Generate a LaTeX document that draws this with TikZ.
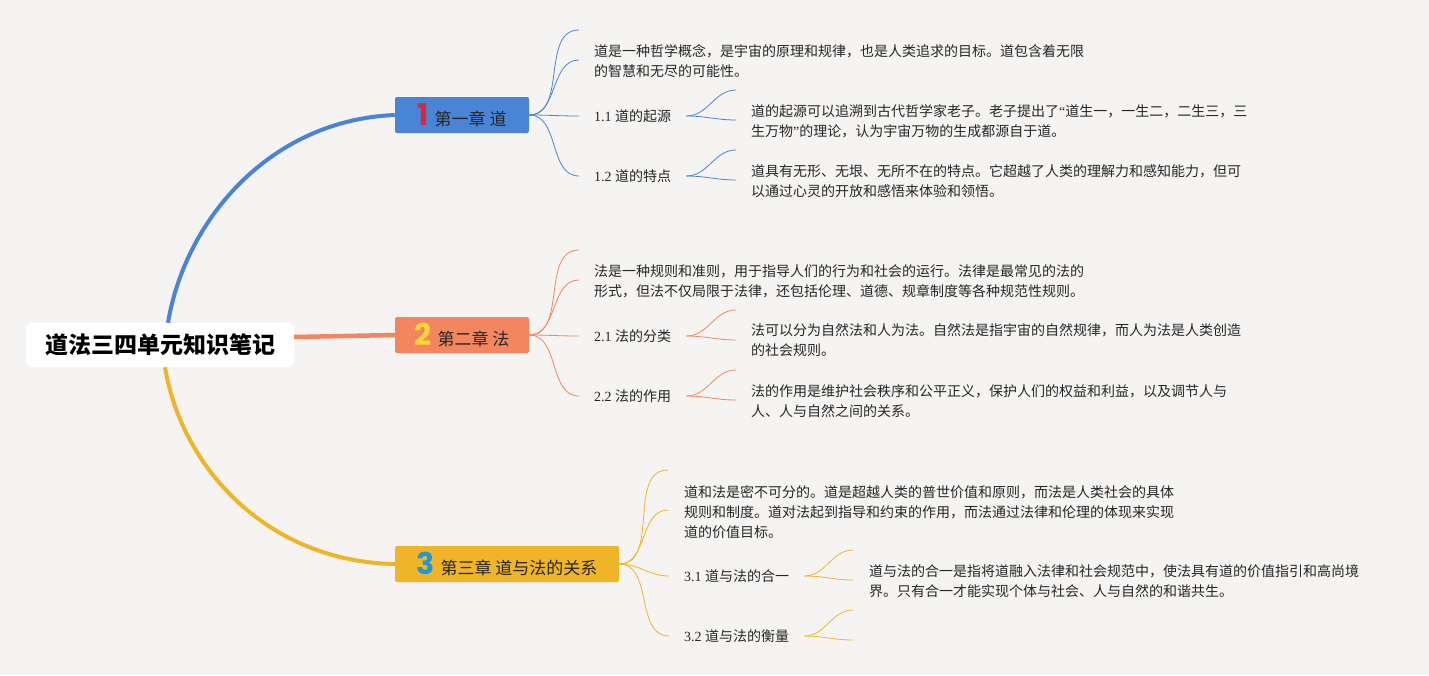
\documentclass[tikz,border=0pt]{standalone}
\usepackage{fontspec}
\setmainfont{Noto Sans CJK SC}
\newfontfamily\latinfont{Liberation Serif}
\newfontfamily\numfont{Poppins}
\usetikzlibrary{positioning}
\definecolor{paperGray}{HTML}{F5F4F2}
\definecolor{inkBlack}{HTML}{262626}
\definecolor{daoBlue}{HTML}{4A84D6}
\definecolor{faOrange}{HTML}{F2865F}
\definecolor{guanYellow}{HTML}{F0B429}
\definecolor{numRed}{HTML}{D62A3C}
\definecolor{numYellow}{HTML}{F8D838}
\definecolor{numBlue}{HTML}{2196D8}
\tikzset{
  topic/.style={rectangle, rounded corners=2pt, minimum height=36pt, inner sep=0pt,
    font=\fontsize{17}{19}\selectfont, text=inkBlack},
  twig/.style={line width=0.8pt},
  sublabel/.style={anchor=west, inner sep=0pt, font=\fontsize{14}{18}\selectfont, text=inkBlack},
  note/.style={anchor=west, inner sep=0pt, align=left, font=\fontsize{14}{19.8}\selectfont, text=inkBlack}
}

\begin{document}
\begin{tikzpicture}[x=1pt, y=-1pt]
  % fondo
  \fill[paperGray] (0,0) rectangle (1429,675);
  % tema central y capitulos
  \node[fill=white, rounded corners=6pt, minimum width=268pt, minimum height=44pt, inner sep=0pt,
    font=\fontsize{23}{25}\selectfont\bfseries, text=black] (root) at (160,345) {道法三四单元知识笔记};
  \node[topic, fill=daoBlue, minimum width=134pt] (ch1) at (462,115)
    {{\numfont\bfseries\fontsize{30}{30}\selectfont\color{numRed}1}\hspace{6pt}第一章 道};
  \node[topic, fill=faOrange, minimum width=134pt] (ch2) at (462,335)
    {{\numfont\bfseries\fontsize{30}{30}\selectfont\color{numYellow}2}\hspace{6pt}第二章 法};
  \node[topic, fill=guanYellow, minimum width=224pt] (ch3) at (507,564)
    {{\numfont\bfseries\fontsize{30}{30}\selectfont\color{numBlue}3}\hspace{6pt}第三章 道与法的关系};
  % ramas principales
  \draw[daoBlue, line width=4pt] ([xshift=8pt]root.north) .. controls (185,220) and (270,120) .. (ch1.west);
  \draw[faOrange, line width=4.5pt] ([yshift=8pt]root.east) -- (ch2.west);
  \draw[guanYellow, line width=4pt] ([xshift=5pt]root.south) .. controls (182,470) and (270,562) .. (ch3.west);

  % capitulo 1
  \node[note] (d1) at (594,61) {道是一种哲学概念，是宇宙的原理和规律，也是人类追求的目标。道包含着无限\\的智慧和无尽的可能性。};
  \node[sublabel] (l11) at (594,116) {{\latinfont 1.1 }道的起源};
  \node[sublabel] (l12) at (594,176) {{\latinfont 1.2 }道的特点};
  \node[note] (d11) at (751,121) {道的起源可以追溯到古代哲学家老子。老子提出了{\latinfont “}道生一，一生二，二生三，三\\生万物{\latinfont ”}的理论，认为宇宙万物的生成都源自于道。};
  \node[note] (d12) at (751,181) {道具有无形、无垠、无所不在的特点。它超越了人类的理解力和感知能力，但可\\以通过心灵的开放和感悟来体验和领悟。};
  \coordinate (e1a) at (579,30);
  \coordinate (e1b) at (579,60);
  \coordinate (f11a) at (736,90);
  \coordinate (f11b) at (736,120);
  \coordinate (f12a) at (736,150);
  \coordinate (f12b) at (736,180);
  \draw[twig, daoBlue] (ch1.east) to[out=0, in=180] (e1a);
  \draw[twig, daoBlue] (ch1.east) to[out=0, in=180] (e1b);
  \draw[twig, daoBlue] (ch1.east) to[out=0, in=180] ([xshift=-15pt]l11.west);
  \draw[twig, daoBlue] (ch1.east) to[out=0, in=180] ([xshift=-15pt]l12.west);
  \draw[twig, daoBlue] ([xshift=15pt]l11.east) to[out=0, in=180] (f11a);
  \draw[twig, daoBlue] ([xshift=15pt]l11.east) to[out=0, in=180] (f11b);
  \draw[twig, daoBlue] ([xshift=15pt]l12.east) to[out=0, in=180] (f12a);
  \draw[twig, daoBlue] ([xshift=15pt]l12.east) to[out=0, in=180] (f12b);

  % capitulo 2
  \node[note] (d2) at (594,281) {法是一种规则和准则，用于指导人们的行为和社会的运行。法律是最常见的法的\\形式，但法不仅局限于法律，还包括伦理、道德、规章制度等各种规范性规则。};
  \node[sublabel] (l21) at (594,336) {{\latinfont 2.1 }法的分类};
  \node[sublabel] (l22) at (594,396) {{\latinfont 2.2 }法的作用};
  \node[note] (d21) at (751,340.5) {法可以分为自然法和人为法。自然法是指宇宙的自然规律，而人为法是人类创造\\的社会规则。};
  \node[note] (d22) at (751,401.5) {法的作用是维护社会秩序和公平正义，保护人们的权益和利益，以及调节人与\\人、人与自然之间的关系。};
  \coordinate (e2a) at (579,250);
  \coordinate (e2b) at (579,280);
  \coordinate (f21a) at (736,310);
  \coordinate (f21b) at (736,340);
  \coordinate (f22a) at (736,370);
  \coordinate (f22b) at (736,400);
  \draw[twig, faOrange] (ch2.east) to[out=0, in=180] (e2a);
  \draw[twig, faOrange] (ch2.east) to[out=0, in=180] (e2b);
  \draw[twig, faOrange] (ch2.east) to[out=0, in=180] ([xshift=-15pt]l21.west);
  \draw[twig, faOrange] (ch2.east) to[out=0, in=180] ([xshift=-15pt]l22.west);
  \draw[twig, faOrange] ([xshift=15pt]l21.east) to[out=0, in=180] (f21a);
  \draw[twig, faOrange] ([xshift=15pt]l21.east) to[out=0, in=180] (f21b);
  \draw[twig, faOrange] ([xshift=15pt]l22.east) to[out=0, in=180] (f22a);
  \draw[twig, faOrange] ([xshift=15pt]l22.east) to[out=0, in=180] (f22b);

  % capitulo 3
  \node[note] (d3) at (684,512) {道和法是密不可分的。道是超越人类的普世价值和原则，而法是人类社会的具体\\规则和制度。道对法起到指导和约束的作用，而法通过法律和伦理的体现来实现\\道的价值目标。};
  \node[sublabel] (l31) at (684,576) {{\latinfont 3.1 }道与法的合一};
  \node[sublabel] (l32) at (684,636) {{\latinfont 3.2 }道与法的衡量};
  \node[note] (d31) at (869,581) {道与法的合一是指将道融入法律和社会规范中，使法具有道的价值指引和高尚境\\界。只有合一才能实现个体与社会、人与自然的和谐共生。};
  \coordinate (e3a) at (668,470);
  \coordinate (e3b) at (668,510);
  \coordinate (f31a) at (853,550);
  \coordinate (f31b) at (853,580);
  \coordinate (f32a) at (853,610);
  \coordinate (f32b) at (853,640);
  \draw[twig, guanYellow] (ch3.east) to[out=0, in=180] (e3a);
  \draw[twig, guanYellow] (ch3.east) to[out=0, in=180] (e3b);
  \draw[twig, guanYellow] (ch3.east) to[out=0, in=180] ([xshift=-15pt]l31.west);
  \draw[twig, guanYellow] (ch3.east) to[out=0, in=180] ([xshift=-15pt]l32.west);
  \draw[twig, guanYellow] ([xshift=15pt]l31.east) to[out=0, in=180] (f31a);
  \draw[twig, guanYellow] ([xshift=15pt]l31.east) to[out=0, in=180] (f31b);
  \draw[twig, guanYellow] ([xshift=15pt]l32.east) to[out=0, in=180] (f32a);
  \draw[twig, guanYellow] ([xshift=15pt]l32.east) to[out=0, in=180] (f32b);
\end{tikzpicture}
\end{document}
